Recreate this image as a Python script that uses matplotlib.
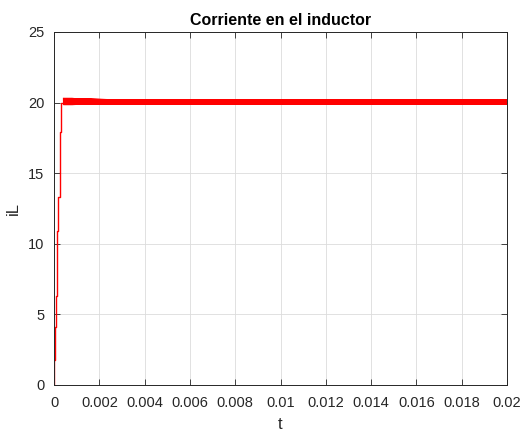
import numpy as np
import matplotlib
matplotlib.use("Agg")
import matplotlib.pyplot as plt

# ── Data ──────────────────────────────────────────────────────────────────────
# start-up staircase (t in s, iL in A)
rise_t  = [0.0, 0.00004, 0.00008, 0.00011, 0.00015, 0.00019, 0.00024,
           0.00028, 0.00032, 0.00037, 0.00041]
rise_iL = [0.0, 1.8, 4.1, 6.3, 8.7, 10.9, 13.3, 15.6, 17.9, 20.0, 20.0]

# steady-state ripple envelopes (peak / valley) at a few instants
env_t      = [0.00041, 0.0008, 0.0015, 0.003, 0.006, 0.010, 0.014, 0.020]
env_peak   = [20.30, 20.30, 20.25, 20.20, 20.20, 20.20, 20.20, 20.20]
env_valley = [19.85, 19.85, 19.88, 19.90, 19.90, 19.90, 19.90, 19.90]
t_switch = 1e-5          # switching period

# ── Build the waveform ──────────────────────────────────────────────────────
ss_t = np.arange(rise_t[-1], env_t[-1] + t_switch / 2, t_switch / 2)
pk = np.interp(ss_t, env_t, env_peak)
vl = np.interp(ss_t, env_t, env_valley)
ss_iL = np.where(np.arange(len(ss_t)) % 2 == 0, pk, vl)

# ── Plot ────────────────────────────────────────────────────────────────────
plt.rcParams["font.family"] = ["Liberation Sans", "DejaVu Sans"]

fig = plt.figure(figsize=(5.2, 4.32), dpi=100)
ax = fig.add_axes([0.104, 0.109, 0.871, 0.817])

ax.plot(rise_t, rise_iL, color="#ff0000", lw=1.0, drawstyle="steps-pre")
ax.plot(ss_t, ss_iL, color="#ff0000", lw=0.7)

ax.set_xlim(0, 0.02)
ax.set_ylim(0, 25)
ax.set_xticks(np.arange(0, 0.0201, 0.002))
ax.set_xticklabels(["0", "0.002", "0.004", "0.006", "0.008", "0.01",
                    "0.012", "0.014", "0.016", "0.018", "0.02"])
ax.set_yticks([0, 5, 10, 15, 20, 25])
ax.grid(True, color="#dcdcdc", lw=0.6)
ax.set_axisbelow(True)
ax.tick_params(direction="in", length=4, labelsize=10.5, colors="#262626",
               top=True, right=True, width=0.6)
ax.tick_params(axis="x", pad=8)
ax.tick_params(axis="y", pad=7)
for s in ax.spines.values():
    s.set_color("#262626")
    s.set_linewidth(0.7)

ax.set_xlabel("t", fontsize=12, color="#262626", labelpad=5)
ax.set_ylabel("iL", fontsize=12, color="#262626", labelpad=5)
ax.set_title("Corriente en el inductor", fontsize=11.5, fontweight="bold", pad=5)

fig.savefig("out.png", dpi=100)
